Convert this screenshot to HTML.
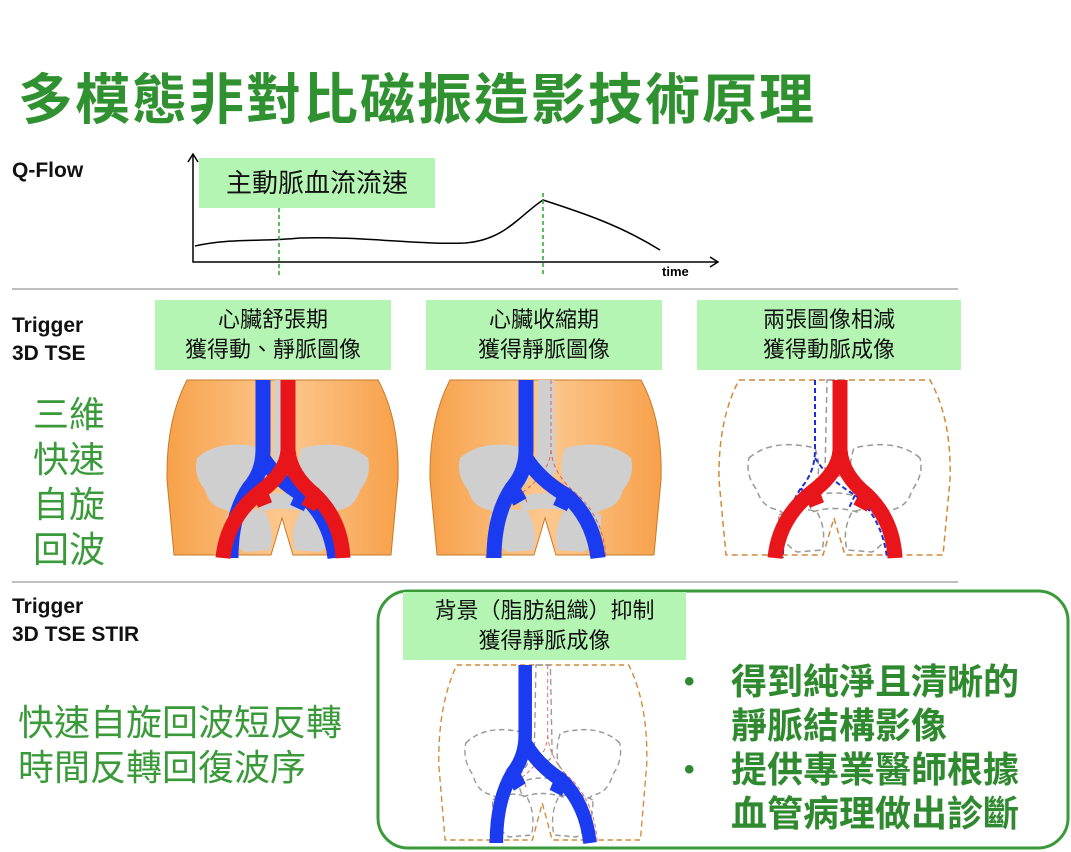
<!DOCTYPE html>
<html><head><meta charset="utf-8"><style>
body{margin:0;width:1071px;height:852px;background:#fff;overflow:hidden;position:relative;font-family:"Liberation Sans","Noto Sans CJK TC",sans-serif}
.a{position:absolute;white-space:nowrap}
.t{font-size:55px;font-weight:bold;color:#2f912f;letter-spacing:2px}
.lb{font-weight:bold;font-size:21px;color:#111;line-height:28px}
.gb{position:absolute;background:#b4f5b4;text-align:center;font-size:22px;line-height:30px;color:#111}
.gt{font-size:36px;color:#3a9a3a;line-height:45px}
.bl{font-size:36px;color:#2f8a2f;font-weight:bold;line-height:44px}
</style></head><body>
<svg width="1071" height="852" style="position:absolute;left:0;top:0">
<defs>
<linearGradient id="og" x1="0" x2="1"><stop offset="0" stop-color="#f7a14a"/><stop offset=".5" stop-color="#fcc88f"/><stop offset="1" stop-color="#f7a14a"/></linearGradient>
<path id="body" d="M22,0 L213,0 Q235,40 233,100 L226,175 L128,175 L117,138 L106,175 L9,175 L2,100 Q1,40 22,0 Z"/>
<g id="bones">
<path d="M32,78 Q55,58 98,68 Q104,85 100,100 Q90,112 80,128 Q70,138 62,130 Q45,128 40,110 Q28,95 32,78Z"/>
<path d="M203,78 Q180,58 137,68 Q131,85 135,100 Q145,112 155,128 Q165,138 173,130 Q190,128 195,110 Q207,95 203,78Z"/>
<path d="M110,0 L126,0 L128,92 Q118,102 108,92Z"/>
<path d="M62,135 Q80,125 100,132 Q110,150 105,170 L80,172 Q60,160 62,135Z"/>
<path d="M173,135 Q155,125 135,132 Q125,150 130,170 L155,172 Q175,160 173,135Z"/>
<path d="M90,118 Q117,108 145,118 L140,132 Q117,125 95,132Z"/>
</g>
<g id="red"><path d="M123,0 L123,70 Q122,92 95,112 Q62,138 58,178 M123,70 Q125,95 150,115 Q176,140 178,178 M95,112 L100,125 M150,115 L143,128" fill="none"/></g>
<g id="blue"><path d="M98,0 L98,70 Q98,92 84,108 Q66,135 66,178 M98,78 Q112,100 138,115 Q165,138 170,178 M84,108 L92,122 M138,115 L132,128" fill="none"/></g>
</defs>
<path d="M193,155 V262 H718" stroke="#000" stroke-width="1.5" fill="none"/>
<path d="M188,162 L193,154 L198,162 M710,257 L718,262 L710,267" stroke="#000" stroke-width="1.5" fill="none"/>
<path d="M195,246 C230,238 260,242 300,238 C360,236 420,245 465,243 C505,240 520,215 543,200 C580,212 620,225 660,250" stroke="#000" stroke-width="1.5" fill="none"/>
<path d="M279,208 V275 M543,193 V275" stroke="#2aa52a" stroke-width="1.5" stroke-dasharray="4,3"/>
<path d="M12,289 H958 M12,582 H958" stroke="#aaa" stroke-width="1.5"/>
<g transform="translate(165,380)">
<use href="#body" fill="url(#og)" stroke="#c87a2a"/>
<use href="#bones" fill="#cfcfcf"/>
<use href="#blue" stroke="#1a3bf0" stroke-width="15"/>
<use href="#red" stroke="#e8161a" stroke-width="15"/>
</g>
<g transform="translate(428,380)">
<use href="#body" fill="url(#og)" stroke="#c87a2a"/>
<use href="#bones" fill="#cfcfcf"/>
<use href="#red" stroke="#e06060" stroke-width="1" stroke-dasharray="4,3"/>
<use href="#blue" stroke="#1a3bf0" stroke-width="15"/>
</g>
<g transform="translate(717,380)">
<use href="#body" fill="#fff" stroke="#d08a3a" stroke-width="1.5" stroke-dasharray="6,4"/>
<use href="#bones" fill="none" stroke="#999" stroke-width="1.5" stroke-dasharray="6,4"/>
<use href="#blue" stroke="#1a30d0" stroke-width="2" stroke-dasharray="5,3"/>
<use href="#red" stroke="#e8161a" stroke-width="15"/>
</g>
<rect x="378" y="591" width="690" height="257" rx="30" fill="none" stroke="#3a9a3a" stroke-width="3"/>
<g transform="translate(437,665) scale(0.9,1.0)">
<use href="#body" fill="#fff" stroke="#d08a3a" stroke-width="1.5" stroke-dasharray="6,4"/>
<use href="#bones" fill="none" stroke="#999" stroke-width="1.5" stroke-dasharray="6,4"/>
<use href="#red" stroke="#e06060" stroke-width="1" stroke-dasharray="4,3"/>
<use href="#blue" stroke="#1a3bf0" stroke-width="15"/>
</g>
</svg>
<div class="a t" style="left:18px;top:55px">多模態非對比磁振造影技術原理</div>
<div class="a lb" style="left:12px;top:157px">Q-Flow</div>
<div class="gb" style="left:199px;top:158px;width:236px;height:50px;line-height:50px;font-size:26px">主動脈血流流速</div>
<div class="a" style="left:662px;top:264px;font-size:13px;font-weight:bold">time</div>
<div class="a lb" style="left:12px;top:312px">Trigger<br>3D TSE</div>
<div class="gb" style="left:155px;top:300px;width:236px;height:70px;padding-top:5px;box-sizing:border-box">心臟舒張期<br>獲得動、靜脈圖像</div>
<div class="gb" style="left:426px;top:300px;width:236px;height:70px;padding-top:5px;box-sizing:border-box">心臟收縮期<br>獲得靜脈圖像</div>
<div class="gb" style="left:697px;top:300px;width:264px;height:70px;padding-top:5px;box-sizing:border-box">兩張圖像相減<br>獲得動脈成像</div>
<div class="a gt" style="left:33px;top:392px">三維<br>快速<br>自旋<br>回波</div>
<div class="a lb" style="left:12px;top:593px">Trigger<br>3D TSE STIR</div>
<div class="a gt" style="left:18px;top:700px">快速自旋回波短反轉<br>時間反轉回復波序</div>
<div class="gb" style="left:403px;top:592px;width:283px;height:68px;padding-top:4px;box-sizing:border-box">背景（脂肪組織）抑制<br>獲得靜脈成像</div>
<div class="a bl" style="left:684px;top:660px;font-size:30px">•<br><br>•</div>
<div class="a bl" style="left:731px;top:660px">得到純淨且清晰的<br>靜脈結構影像<br>提供專業醫師根據<br>血管病理做出診斷</div>
</body></html>
